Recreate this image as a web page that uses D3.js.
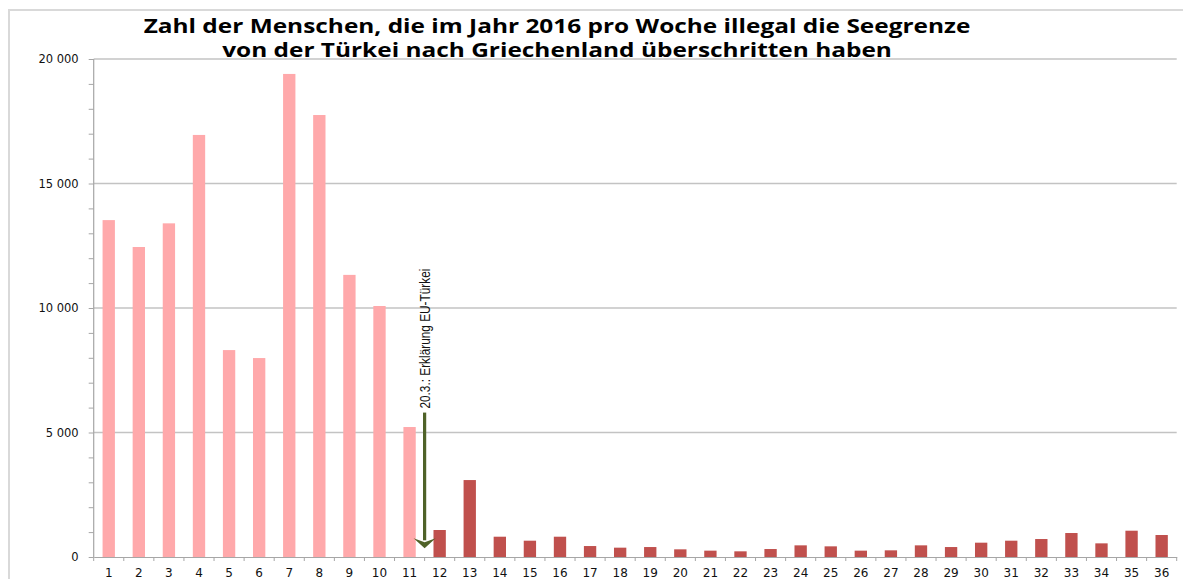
<!DOCTYPE html>
<html lang="de">
  <head>
    <meta charset="utf-8">
    <title>Seegrenze Türkei - Griechenland 2016</title>
    <script src="https://d3js.org/d3.v7.min.js"></script>
    <style>
      body { margin: 0; background: white; }
      svg { display: block; }
    </style>
  </head>
  <body>
    <script>
      // chart values
      var weeks = d3.range(1, 37).map(String);
      var crossings = [13530, 12450, 13400, 16950, 8310, 7990, 19400, 17750, 11330, 10080, 5220,
                       1084, 3090, 815, 655, 815, 440, 375, 400, 308, 255, 228, 320, 468, 428,
                       255, 268, 468, 400, 575, 655, 722, 963, 548, 1056, 883];
      var lastWeekBefore = 11;   // weeks 1..11 before the EU-Turkey statement
      var yTicks = [0, 5000, 10000, 15000, 20000];
      var titleLines = ["Zahl der Menschen, die im Jahr 2016 pro Woche illegal die Seegrenze",
                        "von der Türkei nach Griechenland überschritten haben"];
      var noteText = "20.3.: Erklärung EU-Türkei";
      var noteArrow = [5800, 350];  // arrow from / to (values on the y scale)

      var w = 1183, h = 579;
      var margin = {top: 59, right: 6.3, bottom: 22, left: 93.7};

      var svg = d3.select("body").append("svg")
          .attr("width", w)
          .attr("height", h);

      // outer frame of the chart
      svg.append("rect")
          .attr("x", 9).attr("y", 10)
          .attr("width", w).attr("height", h)
          .attr("fill", "none")
          .attr("stroke", "#d9d9d9")
          .attr("stroke-width", 2);

      var x = d3.scaleBand()
          .domain(weeks)
          .range([margin.left, w - margin.right])
          .paddingInner(0.59)
          .paddingOuter(0.295);

      var y = d3.scaleLinear()
          .domain([0, 20000])
          .range([h - margin.bottom, margin.top]);

      var step = x.step();
      var x0 = x(weeks[0]) - step * x.paddingOuter();

      // gridlines
      svg.append("g")
          .selectAll("line")
          .data(yTicks.slice(1))
          .enter().append("line")
            .attr("x1", margin.left)
            .attr("x2", w - margin.right)
            .attr("y1", d => y(d))
            .attr("y2", d => y(d))
            .attr("stroke", "#c3c3c3")
            .attr("stroke-width", 1.5);

      // bars
      svg.append("g")
          .selectAll("rect")
          .data(crossings)
          .enter().append("rect")
            .attr("x", (d, i) => x(weeks[i]))
            .attr("y", d => y(d))
            .attr("width", x.bandwidth())
            .attr("height", d => y(0) - y(d))
            .attr("fill", (d, i) => (i < lastWeekBefore) ? "#ffa9ab" : "#c0504d");

      var spaced = d3.formatLocale({decimal: ",", thousands: " ", grouping: [3], currency: ["", ""]}).format(",");

      // y axis with a tick every 1000, labels every 5000
      var yAxis = d3.axisLeft(y)
          .tickValues(d3.range(0, 20001, 1000))
          .tickSize(5)
          .tickPadding(10)
          .tickFormat(d => yTicks.indexOf(d) >= 0 ? spaced(d) : "");

      var gy = svg.append("g")
          .attr("transform", `translate(${margin.left}, 0)`)
          .call(yAxis);
      gy.select(".domain").attr("stroke", "#a6a6a6").attr("stroke-width", 1.2).attr("d", `M0,${y(20000)}V${y(0)}`);
      gy.selectAll(".tick line").attr("stroke", "#a6a6a6");
      gy.selectAll("text")
          .attr("font-family", "DejaVu Sans, sans-serif")
          .attr("font-size", 11.5)
          .attr("fill", "#111");

      // x axis: labels at the centres, ticks on the boundaries
      var xAxis = d3.axisBottom(x).tickSize(0).tickPadding(11);
      var gx = svg.append("g")
          .attr("transform", `translate(0, ${y(0)})`)
          .call(xAxis);
      gx.select(".domain").attr("stroke", "#a6a6a6").attr("stroke-width", 1.2);
      gx.selectAll("text")
          .attr("font-family", "DejaVu Sans, sans-serif")
          .attr("font-size", 12)
          .attr("fill", "#111");

      gx.selectAll("line.bound")
          .data(d3.range(weeks.length + 1))
          .enter().append("line")
            .attr("class", "bound")
            .attr("x1", i => x0 + i * step)
            .attr("x2", i => x0 + i * step)
            .attr("y1", 0)
            .attr("y2", 4)
            .attr("stroke", "#a6a6a6");

      // annotation: arrow on the boundary between week 11 and 12
      var ax = x0 + lastWeekBefore * step;
      var green = "#4f6228";
      svg.append("line")
          .attr("x1", ax).attr("x2", ax)
          .attr("y1", y(noteArrow[0]))
          .attr("y2", y(noteArrow[1]) - 8)
          .attr("stroke", green)
          .attr("stroke-width", 3.2);
      var tip = y(noteArrow[1]);
      svg.append("path")
          .attr("d", `M${ax - 11},${tip - 10} L${ax},${tip - 6} L${ax + 11},${tip - 10} L${ax},${tip} Z`)
          .attr("fill", green);

      svg.append("text")
          .attr("transform", `translate(${ax + 5}, ${y(noteArrow[0]) - 4}) rotate(-90)`)
          .attr("font-family", "Liberation Sans Narrow, Arial Narrow, Liberation Sans, sans-serif")
          .attr("font-size", 14)
          .attr("textLength", 140)
          .attr("lengthAdjust", "spacingAndGlyphs")
          .attr("fill", "#111")
          .text(noteText);

      // title, stretched sideways to the width of the original
      var title = svg.append("g");
      var t1 = title.append("text")
          .attr("font-family", "Open Sans, sans-serif")
          .attr("font-weight", 700)
          .attr("font-size", 20)
          .attr("text-anchor", "middle")
          .attr("x", 0).attr("y", 33)
          .text(titleLines[0]);
      title.append("text")
          .attr("font-family", "Open Sans, sans-serif")
          .attr("font-weight", 700)
          .attr("font-size", 20)
          .attr("text-anchor", "middle")
          .attr("x", 0).attr("y", 57)
          .text(titleLines[1]);
      var stretch = 827 / t1.node().getComputedTextLength();
      title.attr("transform", `translate(557, 0) scale(${stretch}, 1)`);
    </script>
  </body>
</html>
